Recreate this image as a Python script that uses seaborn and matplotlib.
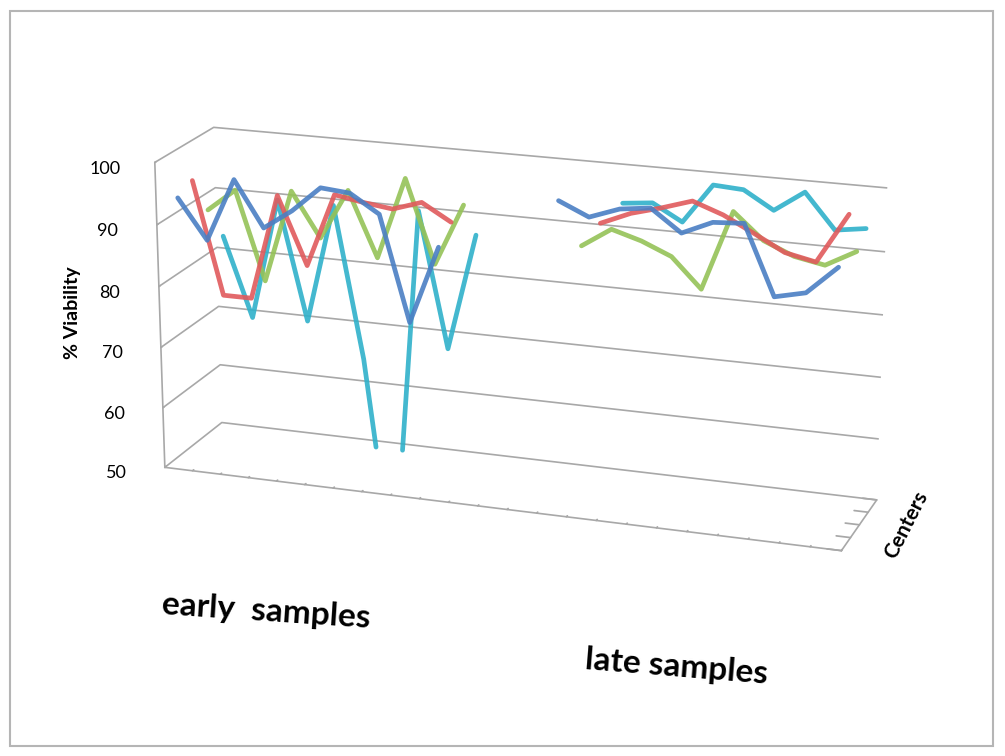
import numpy as np
import pandas as pd
import seaborn as sns
import matplotlib.pyplot as plt
from matplotlib.patches import Rectangle

sns.set_theme(style="white")
plt.rcParams['font.family'] = ['Lato', 'DejaVu Sans']

# 23 samples: 0-9 early, 13-22 late, 10-12 empty
samples = np.arange(23)
center_names = ["Center 1", "Center 2", "Center 3", "Center 4"]
center_depth = [1, 2, 3, 4]
center_colors = ["#4a7fc4", "#e05a5c", "#95c257", "#2fb1ca"]

nan = np.nan
center1 = [93.8, 87.4, 97.6, 90.3, 93.5, 97.6, 97.2, 94.3, 77.5, 90.0,
           nan, nan, nan,
           99.1, 97.0, 98.7, 99.3, 95.9, 98.0, 98.3, 87.5, 88.6, 93.0]
center2 = [95.1, 76.8, 76.8, 94.0, 83.1, 95.0, 94.2, 93.6, 95.1, 92.4,
           nan, nan, nan, nan,
           94.5, 96.5, 97.8, 99.3, 97.6, 95.2, 92.7, 91.7, 99.5]
center3 = [88.8, 92.5, 78.0, 93.2, 86.0, 94.2, 83.7, 97.0, 83.6, 93.6,
           nan, nan, nan,
           88.9, 92.0, 90.6, 88.6, 83.9, 96.6, 92.5, 90.5, 89.6, 92.2]
center4 = [82.9, 69.7, 89.8, 70.1, 89.8, 64.7, 28.0, 90.3, 68.0, 87.2,
           nan, nan, nan, nan,
           94.6, 95.1, 92.5, 98.8, 98.5, 95.7, 99.0, 93.5, 94.2]

z_ticks = [50, 60, 70, 80, 90, 100]
FLOOR = 50


def clip_floor(x, z, floor):
    # cut the line where it goes below the axis floor (like Excel does)
    xs, zs = [], []
    for i in range(len(x)):
        if i > 0 and not np.isnan(z[i - 1]) and not np.isnan(z[i]) \
                and (z[i - 1] < floor) != (z[i] < floor):
            t = (floor - z[i - 1]) / (z[i] - z[i - 1])
            xs.append(x[i - 1] + t * (x[i] - x[i - 1]))
            zs.append(floor)
        if z[i] < floor:
            xs.append(nan)
            zs.append(nan)
        else:
            xs.append(x[i])
            zs.append(z[i])
    return np.array(xs, dtype=float), np.array(zs, dtype=float)


fig = plt.figure(figsize=(10.05, 7.56), dpi=100)
ax = fig.add_axes([0.03, 0.12, 0.95, 0.86], projection='3d')
ax.set_proj_type('persp', focal_length=1.0)
ax.view_init(elev=18, azim=-71)
ax.set_box_aspect((2.2, 0.45, 1.0), zoom=1.19)

series = [center1, center2, center3, center4]
for vals, depth, col in reversed(list(zip(series, center_depth, center_colors))):
    xs, zs = clip_floor(samples.astype(float), np.array(vals, dtype=float), FLOOR)
    line, = ax.plot(xs, np.full_like(xs, depth), zs, color=col, lw=3.4, alpha=0.9)
    line.set_clip_on(False)

ax.set_xlim(-0.5, 22.5)
ax.set_ylim(0.5, 4.5)
ax.set_zlim(50, 100)
ax.set_xticks(np.arange(-0.5, 23, 1))
ax.set_xticklabels([])
ax.set_yticks(np.arange(0.5, 4.6, 1))
ax.set_yticklabels([])
ax.set_zticks(z_ticks)
ax.set_zticklabels([str(t) for t in z_ticks], fontsize=13, color='black')
ax.zaxis.set_ticks_position('lower')
ax.tick_params(axis='z', pad=9)

for a in (ax.xaxis, ax.yaxis, ax.zaxis):
    a.set_pane_color((1, 1, 1, 0))
    a.pane.set_edgecolor((1, 1, 1, 0))
    a.line.set_color('#a8a8a8')
    a.line.set_linewidth(1.2)
    a._axinfo['tick']['inward_factor'] = 0.0
    a._axinfo['tick']['outward_factor'] = 0.25
ax.grid(True)
ax.xaxis._axinfo['grid']['linewidth'] = 0
ax.yaxis._axinfo['grid']['linewidth'] = 0
ax.zaxis._axinfo['grid']['color'] = '#a8a8a8'
ax.zaxis._axinfo['grid']['linewidth'] = 1.2
ax.tick_params(axis='both', colors='#a8a8a8', labelcolor='black')

fig.text(0.072, 0.587, '% Viability', rotation=90, fontsize=14,
         fontweight='bold', ha='center', va='center', color='black')
fig.text(0.161, 0.2, 'early  samples', rotation=-3.8, fontsize=24,
         fontweight='bold', ha='left', va='center', rotation_mode='anchor', color='black')
fig.text(0.582, 0.128, 'late samples', rotation=-4.6, fontsize=24,
         fontweight='bold', ha='left', va='center', rotation_mode='anchor', color='black')
fig.text(0.902, 0.306, 'Centers', rotation=63, fontsize=15,
         fontweight='bold', ha='center', va='center', color='black')

fig.patches.append(Rectangle((0.01, 0.013), 0.978, 0.973, transform=fig.transFigure,
                             fill=False, edgecolor='#b5b5b5', lw=1.5))

fig.savefig('out.png', dpi=100)
